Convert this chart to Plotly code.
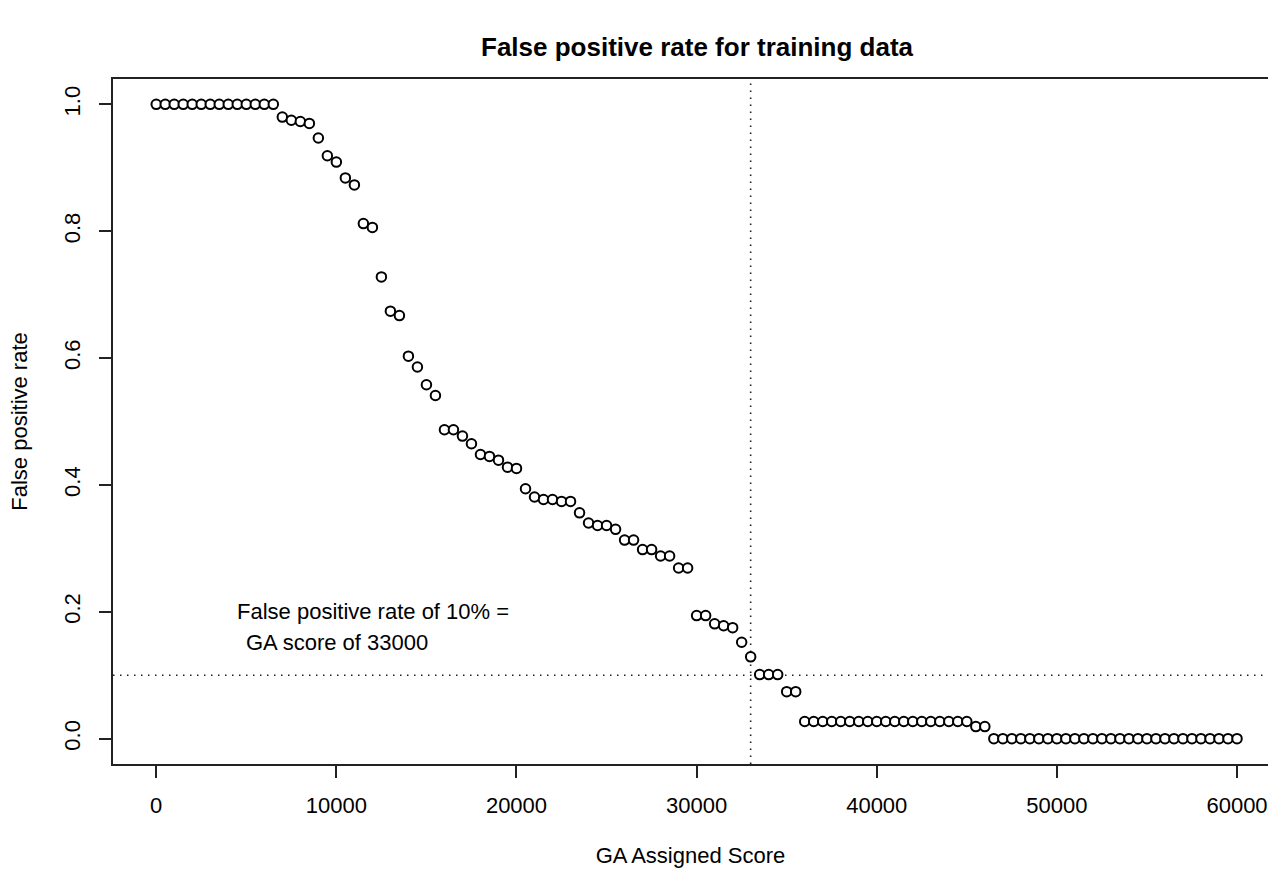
import plotly.graph_objects as go

# GA assigned score thresholds
scores = list(range(0, 60001, 500))

# False positive rate at each threshold
fpr = (
    [1.0] * 14 +                                   # 0 .. 6500
    [0.980, 0.975, 0.973, 0.970, 0.947, 0.919, 0.909, 0.884, 0.873,   # 7000 .. 11000
     0.812, 0.806, 0.728, 0.674, 0.667, 0.603, 0.586, 0.558, 0.541,   # 11500 .. 15500
     0.487, 0.487, 0.477, 0.465, 0.448, 0.445, 0.439, 0.428, 0.426,   # 16000 .. 20000
     0.394, 0.381, 0.377, 0.377, 0.374, 0.374, 0.356, 0.340, 0.336,   # 20500 .. 24500
     0.336, 0.330, 0.313, 0.313, 0.298, 0.298, 0.288, 0.288, 0.269,   # 25000 .. 29000
     0.269, 0.194, 0.194, 0.181, 0.178, 0.175, 0.152, 0.129, 0.101,   # 29500 .. 33500
     0.101, 0.101, 0.074, 0.074] +                                   # 34000 .. 35500
    [0.027] * 19 +                                 # 36000 .. 45000
    [0.019, 0.019] +                               # 45500, 46000
    [0.0] * 28                                     # 46500 .. 60000
)

threshold_score = 33000
threshold_rate = 0.1

title_text = "False positive rate for training data"
x_title = "GA Assigned Score"
y_title = "False positive rate"
note_line1 = "False positive rate of 10% ="
note_line2 = "GA score of 33000"

FONT = "Liberation Sans, Arial, Helvetica, sans-serif"
FS = 22

fig = go.Figure()
fig.add_trace(go.Scatter(
    x=scores, y=fpr, mode="markers",
    marker=dict(symbol="circle", size=9.5, color="white",
                line=dict(color="black", width=2)),
    showlegend=False, hoverinfo="x+y",
))

dot = "1.5px,5.5px"
fig.add_shape(type="line", xref="x", yref="y domain",
              x0=threshold_score, x1=threshold_score, y0=0, y1=1,
              line=dict(color="#222", width=1.6, dash=dot), layer="below")
fig.add_shape(type="line", xref="x domain", yref="y",
              x0=0, x1=1, y0=threshold_rate, y1=threshold_rate,
              line=dict(color="#222", width=1.6, dash=dot), layer="below")

fig.add_annotation(x=4400, y=0.2, xref="x", yref="y", text=note_line1,
                   showarrow=False, xanchor="left", yanchor="middle",
                   font=dict(family=FONT, size=FS, color="black"))
fig.add_annotation(x=4850, y=0.151, xref="x", yref="y", text=note_line2,
                   showarrow=False, xanchor="left", yanchor="middle",
                   font=dict(family=FONT, size=FS, color="black"))

fig.update_layout(
    width=1268, height=869,
    margin=dict(l=113, r=0, t=79, b=105),
    paper_bgcolor="white", plot_bgcolor="white",
    font=dict(family=FONT, size=FS, color="black"),
    title=dict(text="<b>" + title_text + "</b>", x=697 / 1268, xanchor="center",
               y=1 - 47 / 869, yanchor="middle",
               font=dict(family=FONT, size=26, color="black")),
    xaxis=dict(
        range=[-2400, 61720], showgrid=False, zeroline=False,
        showline=True, linecolor="#222", linewidth=2, mirror=True,
        ticks="outside", ticklen=12, tickwidth=2, tickcolor="#222",
        tickvals=[0, 10000, 20000, 30000, 40000, 50000, 60000],
        ticktext=["0", "10000", "20000", "30000", "40000", "50000", "60000"],
        tickfont=dict(size=FS), ticklabelstandoff=9,
        title=dict(text=x_title, font=dict(size=FS), standoff=30),
    ),
    yaxis=dict(
        range=[-0.04, 1.04], showgrid=False, zeroline=False,
        showline=True, linecolor="#222", linewidth=2, mirror=False,
        ticks="outside", ticklen=12, tickwidth=2, tickcolor="#222",
        tickvals=[0, 0.2, 0.4, 0.6, 0.8, 1.0],
        ticktext=["0.0", "0.2", "0.4", "0.6", "0.8", "1.0"],
        tickangle=-90, tickfont=dict(size=FS), ticklabelstandoff=10,
        title=dict(text=y_title, font=dict(size=FS), standoff=27),
    ),
)

fig.write_html("out.html")
